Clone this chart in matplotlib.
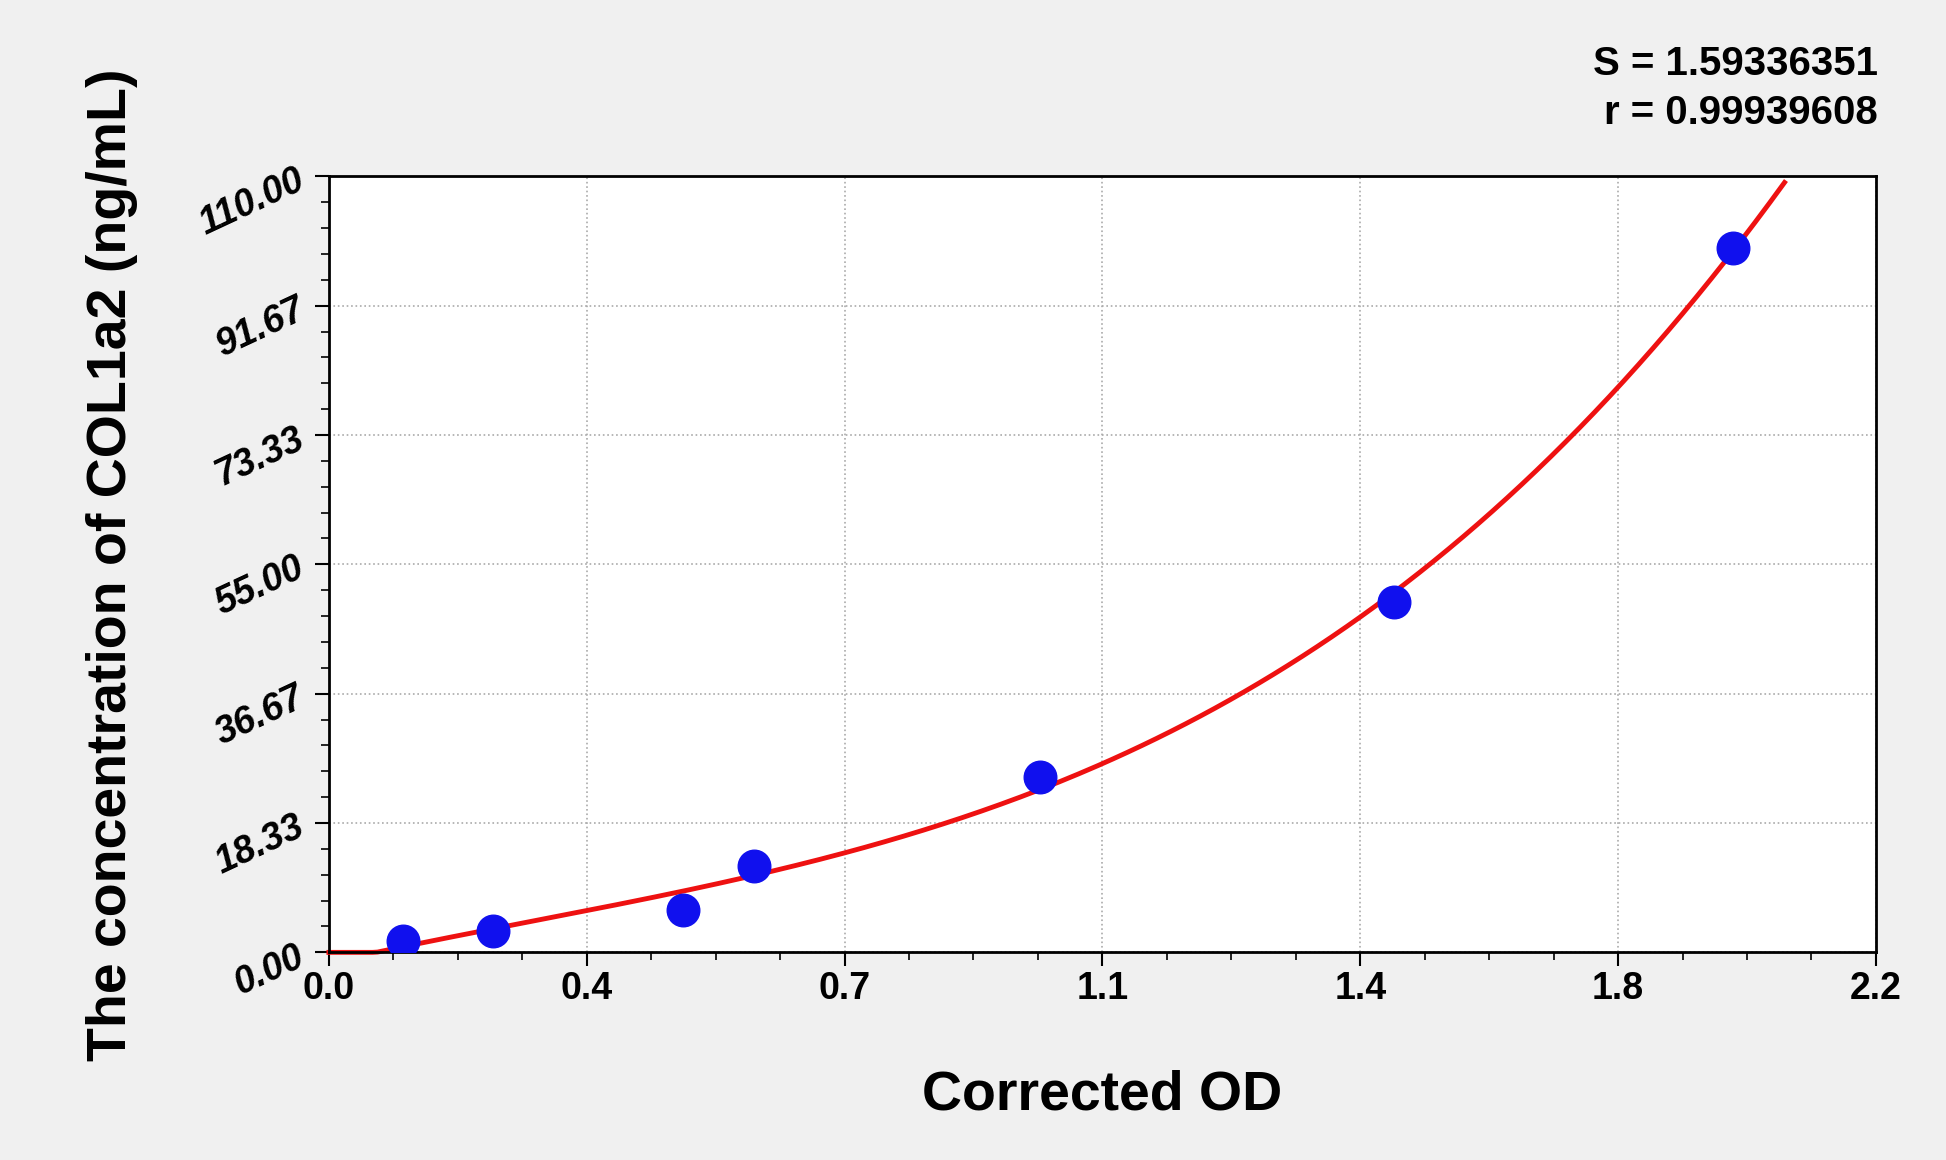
import numpy as np
import matplotlib
matplotlib.use("Agg")
import matplotlib.pyplot as plt
from matplotlib.ticker import MultipleLocator, FixedLocator

plt.rcParams['font.family'] = ['Liberation Sans', 'DejaVu Sans']

od = [0.106, 0.233, 0.503, 0.605, 1.011, 1.515, 1.997]
conc = [1.6, 3.0, 6.0, 12.3, 24.9, 49.7, 99.8]
xticks = [0.0, 2.2/6, 2*2.2/6, 1.1, 4*2.2/6, 5*2.2/6, 2.2]
xlabels = ["0.0", "0.4", "0.7", "1.1", "1.4", "1.8", "2.2"]
yticks = [0, 18.33, 36.67, 55.0, 73.33, 91.67, 110.0]
ylabels = ["0.00", "18.33", "36.67", "55.00", "73.33", "91.67", "110.00"]

fig = plt.figure(figsize=(19.46, 11.6), dpi=100, facecolor='#f0f0f0')
ax = fig.add_axes([0.169, 0.179, 0.795, 0.669])
ax.set_facecolor('white')

coef = np.polyfit(od, conc, 3)
xc = np.linspace(0.0, 2.07, 300)
yc = np.clip(np.polyval(coef, xc), 0, None)
ax.plot(xc, yc, color='#ee1111', lw=3.5, zorder=2, clip_on=False)
ax.scatter(od, conc, s=550, color='#1010ee', zorder=3)

ax.set_xlim(0, 2.2)
ax.set_ylim(0, 110)
ax.xaxis.set_major_locator(FixedLocator(xticks))
ax.set_xticklabels(xlabels, fontsize=27, fontweight='bold')
ax.yaxis.set_major_locator(FixedLocator(yticks))
ax.set_yticklabels(ylabels, fontsize=27, fontweight='bold', style='italic', rotation=25)
ax.xaxis.set_minor_locator(MultipleLocator(2.2/24))
ax.yaxis.set_minor_locator(MultipleLocator(110/30))
ax.tick_params(which='major', length=10, width=1.5, direction='out')
ax.tick_params(which='minor', length=6, width=1.2, direction='out')
ax.grid(True, which='major', linestyle=':', color='#aaaaaa', lw=1.2)
for s in ax.spines.values():
    s.set_linewidth(2)
ax.set_xlabel("Corrected OD", fontsize=40, fontweight='bold', labelpad=45)
ax.set_ylabel("The concentration of COL1a2 (ng/mL)", fontsize=40, fontweight='bold', labelpad=40)
fig.text(0.965, 0.945, "S = 1.59336351", ha='right', va='center', fontsize=29, fontweight='bold')
fig.text(0.965, 0.903, "r = 0.99939608", ha='right', va='center', fontsize=29, fontweight='bold')
fig.savefig("out.png", dpi=100, facecolor=fig.get_facecolor())
